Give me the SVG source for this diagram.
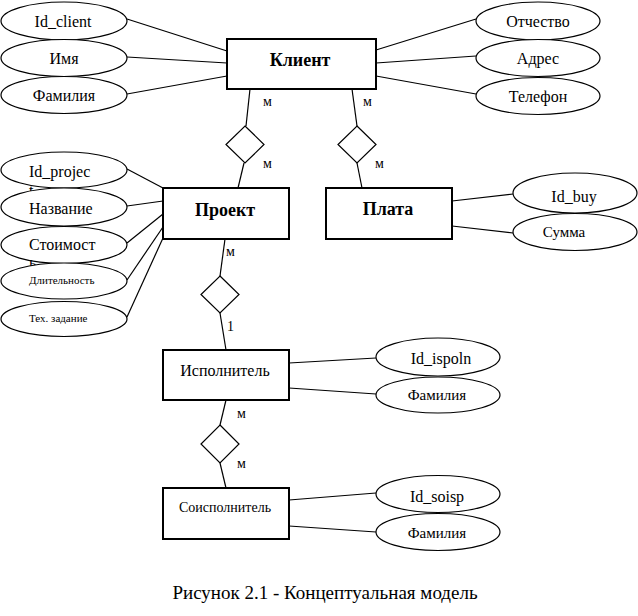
<svg xmlns="http://www.w3.org/2000/svg" width="638" height="616" viewBox="0 0 638 616">
<style>
  .ent { fill: #fff; stroke: #000; stroke-width: 2; }
  .att { fill: #fff; stroke: #000; stroke-width: 1.2; }
  .rel { fill: #fff; stroke: #000; stroke-width: 1.2; }
  .ln { stroke: #000; stroke-width: 1.2; fill: none; }
  text { font-family: "Liberation Serif", "DejaVu Serif", serif; fill: #000; }
  .t16 { font-size: 16px; }
  .t15 { font-size: 15px; }
  .t11 { font-size: 11px; }
  .b { font-size: 18px; font-weight: bold; }
  .card { font-size: 14px; }
  .mid { text-anchor: middle; }
</style>
<rect width="638" height="616" fill="#fff"/>

<g id="connectors">
  <!-- Клиент attributes -->
  <line class="ln" x1="127" y1="19" x2="227" y2="51"/>
  <line class="ln" x1="127" y1="57" x2="227" y2="63"/>
  <line class="ln" x1="127" y1="94" x2="227" y2="76"/>
  <line class="ln" x1="376" y1="50" x2="476" y2="19"/>
  <line class="ln" x1="376" y1="63" x2="476" y2="56"/>
  <line class="ln" x1="376" y1="76" x2="476" y2="94"/>
  <!-- Клиент - Проект -->
  <line class="ln" x1="250" y1="89" x2="246" y2="126"/>
  <line class="ln" x1="244" y1="163" x2="238" y2="188"/>
  <!-- Клиент - Плата -->
  <line class="ln" x1="352" y1="89" x2="357" y2="126"/>
  <line class="ln" x1="357" y1="163" x2="362" y2="188"/>
  <!-- Проект attributes -->
  <line class="ln" x1="127" y1="169" x2="163" y2="188"/>
  <line class="ln" x1="127" y1="206" x2="163" y2="201"/>
  <line class="ln" x1="127" y1="243" x2="163" y2="214"/>
  <line class="ln" x1="127" y1="280" x2="163" y2="227"/>
  <line class="ln" x1="127" y1="317" x2="163" y2="238"/>
  <!-- Плата attributes -->
  <line class="ln" x1="452" y1="201" x2="513" y2="194"/>
  <line class="ln" x1="452" y1="226" x2="513" y2="233"/>
  <!-- Проект - Исполнитель -->
  <line class="ln" x1="225" y1="239" x2="220" y2="276"/>
  <line class="ln" x1="220" y1="313" x2="226" y2="350"/>
  <!-- Исполнитель attributes -->
  <line class="ln" x1="289" y1="363" x2="376" y2="358"/>
  <line class="ln" x1="289" y1="388" x2="376" y2="394"/>
  <!-- Исполнитель - Соисполнитель -->
  <line class="ln" x1="226" y1="400" x2="220" y2="425"/>
  <line class="ln" x1="220" y1="463" x2="226" y2="488"/>
  <!-- Соисполнитель attributes -->
  <line class="ln" x1="289" y1="500" x2="376" y2="493"/>
  <line class="ln" x1="289" y1="526" x2="376" y2="532"/>
  <!-- cardinalities -->
  <text class="card" x="263" y="106">м</text>
  <text class="card" x="263" y="168">м</text>
  <text class="card" x="363" y="106">м</text>
  <text class="card" x="375" y="168">м</text>
  <text class="card" x="226" y="256">м</text>
  <text class="card" x="227" y="331">1</text>
  <text class="card" x="237" y="418">м</text>
  <text class="card" x="237" y="468">м</text>
</g>

<g id="rel-klient-proekt"><polygon class="rel" points="245,126 264,144.5 245,163 226,144.5"/></g>
<g id="rel-klient-plata"><polygon class="rel" points="357,126 376,144.5 357,163 338,144.5"/></g>
<g id="rel-proekt-ispolnitel"><polygon class="rel" points="220,276 239,294.5 220,313 201,294.5"/></g>
<g id="rel-ispolnitel-soispolnitel"><polygon class="rel" points="220,425 239,444 220,463 201,444"/></g>

<g id="klient">
  <rect class="ent" x="227" y="39" width="149" height="50"/>
  <text class="b mid" x="300" y="66">Клиент</text>
</g>
<g id="attr-id-client">
  <ellipse class="att" cx="64" cy="21" rx="63" ry="19"/>
  <text class="t16 mid" x="63" y="27">Id_client</text>
</g>
<g id="attr-imya">
  <ellipse class="att" cx="64" cy="58" rx="63" ry="18.5"/>
  <text class="t16 mid" x="64" y="64">Имя</text>
</g>
<g id="attr-familiya-1">
  <ellipse class="att" cx="64" cy="95" rx="63" ry="18.5"/>
  <text class="t16 mid" x="64" y="101">Фамилия</text>
</g>
<g id="attr-otchestvo">
  <ellipse class="att" cx="538" cy="21" rx="62" ry="19"/>
  <text class="t16 mid" x="538" y="27">Отчество</text>
</g>
<g id="attr-adres">
  <ellipse class="att" cx="538" cy="58" rx="62" ry="18.5"/>
  <text class="t16 mid" x="538" y="64">Адрес</text>
</g>
<g id="attr-telefon">
  <ellipse class="att" cx="538" cy="96" rx="62" ry="18.5"/>
  <text class="t16 mid" x="538" y="102">Телефон</text>
</g>

<g id="proekt">
  <rect class="ent" x="163" y="188" width="126" height="51"/>
  <text class="b mid" x="225" y="216">Проект</text>
</g>
<g id="attr-id-project">
  <ellipse class="att" cx="64" cy="170" rx="63" ry="18"/>
  <text class="t16" x="29" y="177">Id_projec</text>
  <text class="t16" x="29" y="196">t</text>
</g>
<g id="attr-nazvanie">
  <ellipse class="att" cx="64" cy="207" rx="63" ry="19"/>
  <text class="t16" x="29" y="214">Название</text>
</g>
<g id="attr-stoimost">
  <ellipse class="att" cx="64" cy="245" rx="63" ry="18.5"/>
  <text class="t16" x="29" y="250">Стоимост</text>
  <text class="t16" x="29" y="268">ь</text>
</g>
<g id="attr-dlitelnost">
  <ellipse class="att" cx="64" cy="281" rx="63" ry="18"/>
  <text class="t11" x="29" y="284">Длительность</text>
</g>
<g id="attr-tz">
  <ellipse class="att" cx="64" cy="319" rx="63" ry="17.5"/>
  <text class="t11" x="29" y="322">Тех. задание</text>
</g>

<g id="plata">
  <rect class="ent" x="326" y="188" width="126" height="51"/>
  <text class="b mid" x="388" y="215">Плата</text>
</g>
<g id="attr-id-buy">
  <ellipse class="att" cx="575" cy="193" rx="62" ry="20"/>
  <text class="t16 mid" x="574" y="202">Id_buy</text>
</g>
<g id="attr-summa">
  <ellipse class="att" cx="575" cy="232" rx="62" ry="18.5"/>
  <text class="t15 mid" x="564" y="237">Сумма</text>
</g>

<g id="ispolnitel">
  <rect class="ent" x="163" y="350" width="126" height="50"/>
  <text class="t16 mid" x="225" y="376">Исполнитель</text>
</g>
<g id="attr-id-ispoln">
  <ellipse class="att" cx="438" cy="357" rx="62" ry="19"/>
  <text class="t16 mid" x="441" y="364">Id_ispoln</text>
</g>
<g id="attr-familiya-2">
  <ellipse class="att" cx="438" cy="395" rx="62" ry="18"/>
  <text class="t15 mid" x="437" y="400">Фамилия</text>
</g>

<g id="soispolnitel">
  <rect class="ent" x="163" y="488" width="126" height="51"/>
  <text class="mid" x="225" y="512" style="font-size:14px">Соисполнитель</text>
</g>
<g id="attr-id-soisp">
  <ellipse class="att" cx="438" cy="494" rx="62" ry="18.5"/>
  <text class="t16 mid" x="437" y="502">Id_soisp</text>
</g>
<g id="attr-familiya-3">
  <ellipse class="att" cx="438" cy="532" rx="62" ry="18.5"/>
  <text class="t15 mid" x="437" y="538">Фамилия</text>
</g>

<text class="mid" x="325" y="599" style="font-size:19px">Рисунок 2.1 - Концептуальная модель</text>
</svg>
